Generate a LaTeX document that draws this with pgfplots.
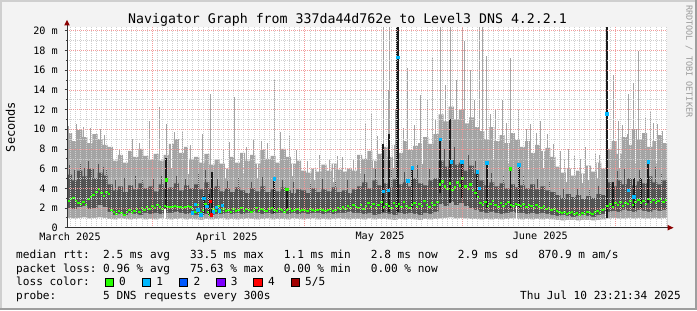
\documentclass[border=0pt]{standalone}
\usepackage{pgfplots}
\pgfplotsset{compat=1.18}
\usepackage{pgfplotstable}
\usepackage{fontspec}
\setmainfont{DejaVu Sans Mono}
\newcommand*\fs[1]{\fontsize{#1}{#1}\selectfont}
\definecolor{bgc}{HTML}{F3F3F3}
\definecolor{frlight}{HTML}{CFCFCF}
\definecolor{frdark}{HTML}{9E9E9E}
\definecolor{smokelight}{HTML}{A4A4A4}
\definecolor{smokedark}{HTML}{545454}
\definecolor{barblack}{HTML}{1C1C1C}
\definecolor{medgreen}{HTML}{26FF00}
\definecolor{loss1}{HTML}{00B8FF}
\definecolor{loss2}{HTML}{0059FF}
\definecolor{loss3}{HTML}{7E00FF}
\definecolor{loss4}{HTML}{FF0000}
\definecolor{loss5}{HTML}{A10000}
\definecolor{mgrid}{HTML}{F29A9A}
\definecolor{mingrid}{HTML}{CFCFCF}
\definecolor{arrowred}{HTML}{8B0000}
\definecolor{rrdgray}{HTML}{9A9A9A}

\pgfplotstableread{
d lo dlo dhi hi
0 1.00 2.0 5.4 9.6
1 0.95 1.9 4.8 8.8
2 1.00 2.1 5.8 9.9
3 1.05 2.2 5.2 9.2
4 0.95 1.9 6.0 8.6
5 1.00 2.0 5.0 9.5
6 1.05 2.3 5.6 9.0
7 1.00 2.1 5.3 8.4
8 0.90 1.6 4.4 8.2
9 0.85 1.3 3.8 6.8
10 0.95 1.4 4.2 7.4
11 0.90 1.3 3.6 6.6
12 0.85 1.5 4.3 7.8
13 0.90 1.4 3.9 7.2
14 0.95 1.3 4.5 8.0
15 0.85 1.5 4.0 7.3
16 0.90 1.4 4.2 6.9
17 0.85 1.5 3.7 7.5
18 0.95 1.4 4.4 6.8
19 0.90 1.5 4.0 7.4
20 0.85 1.5 4.1 8.5
21 0.90 1.6 4.5 9.0
22 0.95 1.5 3.8 7.6
23 0.85 1.4 4.3 8.2
24 0.90 1.5 4.0 7.0
25 0.85 1.3 4.4 7.2
26 0.80 1.2 3.9 6.6
27 0.90 1.4 4.6 7.5
28 0.85 1.3 4.0 6.4
29 0.90 1.4 4.2 6.9
30 0.95 1.4 3.7 6.5
31 0.85 1.5 4.0 6.0
32 0.90 1.4 3.6 7.2
33 0.85 1.5 4.1 6.6
34 0.90 1.4 3.8 7.6
35 0.95 1.5 3.5 6.8
36 0.90 1.6 4.0 7.4
37 0.85 1.5 3.7 6.5
38 0.90 1.4 4.2 7.9
39 0.95 1.5 3.6 7.0
40 0.85 1.4 3.9 7.3
41 0.90 1.5 3.7 6.6
42 0.90 1.5 4.1 8.0
43 0.85 1.4 3.8 7.2
44 0.95 1.5 3.5 6.5
45 0.90 1.4 3.9 6.8
46 0.85 1.5 3.8 5.8
47 0.90 1.4 3.5 5.6
48 0.95 1.5 4.0 6.0
49 0.85 1.5 3.6 5.7
50 0.90 1.4 3.9 6.4
51 0.85 1.5 3.7 5.8
52 0.90 1.4 4.1 6.5
53 0.95 1.5 3.6 5.9
54 0.90 1.5 3.8 5.7
55 0.85 1.6 3.5 6.0
56 0.90 1.5 3.9 5.8
57 0.90 1.5 4.2 7.4
58 0.85 1.4 4.6 7.0
59 0.95 1.5 4.0 7.8
60 0.85 1.3 4.8 6.8
61 0.90 1.4 4.3 7.5
62 0.90 1.5 4.5 8.2
63 0.85 1.4 4.1 7.2
64 0.80 1.3 4.9 8.4
65 0.90 1.5 4.4 7.6
66 0.85 1.4 4.6 8.8
67 0.90 1.5 4.2 7.9
68 0.85 1.4 5.0 8.3
69 0.80 1.3 4.5 8.6
70 0.90 1.5 4.3 9.2
71 0.85 1.4 4.8 8.5
72 0.90 1.6 5.0 9.5
73 0.95 2.4 6.8 11.5
74 1.00 2.2 6.2 10.8
75 1.05 2.6 7.0 12.3
76 0.95 2.3 6.4 11.0
77 1.00 2.5 6.6 12.0
78 0.95 2.2 5.8 10.6
79 0.90 2.0 6.3 11.2
80 0.90 1.8 5.5 10.2
81 0.85 1.6 4.8 9.8
82 0.90 1.5 4.3 9.0
83 0.85 1.6 4.6 10.2
84 0.90 1.5 4.2 8.8
85 0.85 1.4 4.5 9.4
86 0.90 1.5 4.0 8.6
87 0.95 1.6 4.4 9.6
88 0.90 1.5 4.1 8.9
89 0.85 1.5 4.3 8.2
90 0.90 1.4 4.0 8.8
91 0.85 1.5 4.4 7.6
92 0.90 1.4 3.9 8.4
93 0.85 1.5 4.2 7.8
94 0.90 1.4 3.8 8.1
95 0.85 1.3 3.6 7.2
96 0.80 1.2 3.3 6.2
97 0.75 1.3 3.0 5.6
98 0.80 1.2 3.4 6.0
99 0.80 1.1 3.1 5.3
100 0.75 1.2 3.3 5.8
101 0.80 1.3 2.9 5.5
102 0.80 1.2 3.2 6.3
103 0.75 1.1 3.0 5.7
104 0.80 1.3 3.4 6.6
105 0.85 1.4 3.3 6.0
106 0.95 1.6 4.6 8.0
107 1.00 1.7 4.2 8.8
108 0.95 1.6 4.8 7.5
109 0.95 1.8 4.4 9.2
110 1.00 1.7 5.0 8.4
111 0.95 1.6 4.3 10.0
112 1.00 1.8 4.7 9.0
113 0.95 1.7 4.5 9.6
114 0.95 1.6 5.2 8.2
115 1.00 1.8 4.6 8.8
116 0.95 1.7 4.4 9.4
117 1.00 1.8 4.8 8.6
117.9 1.00 1.8 4.8 8.6
}\smoke

\begin{document}
\frenchspacing
\begin{tikzpicture}
\begin{scope}[x=1bp,y=1bp]
\fill[bgc] (0,0) rectangle (697,310);
\useasboundingbox (0,0) rectangle (697,310);
\draw[frlight, line width=2bp] (1,0) -- (1,309) -- (697,309);
\draw[frdark, line width=2bp] (0,1) -- (696,1) -- (696,310);
\end{scope}

\begin{axis}[
  at={(67bp,82.3bp)}, anchor=south west,
  scale only axis, width=600bp, height=200.9bp,
  xmin=0, xmax=117.9, ymin=0, ymax=20.4,
  axis background/.style={fill=white},
  axis line style={draw=none},
  axis on top,
  xtick={16.7,46.7,77.7,107.7}, xticklabels={,,,},
  minor xtick={0.7,1.7,...,117.7},
  ytick={0,2,...,20},
  yticklabels={0,2 m,4 m,6 m,8 m,10 m,12 m,14 m,16 m,18 m,20 m},
  minor ytick={1,3,...,19},
  grid=both,
  major grid style={mgrid, line width=0.6bp, dash pattern=on 1bp off 1bp},
  minor grid style={mingrid, line width=0.5bp, dash pattern=on 1bp off 1bp},
  tick pos=left, tick align=outside,
  x tick style={draw=none},
  y tick style={black!75, line width=0.8bp},
  major tick length=2.5bp, minor tick length=1.5bp,
  extra x ticks={0.6,31.4,61.5,93},
  extra x tick labels={March 2025,April 2025,May 2025,June 2025},
  extra x tick style={grid=none, major tick length=0pt},
  tick label style={font=\fs{10.2}, text=black},
  yticklabel style={anchor=east, inner sep=0pt, xshift=-6.5bp},
  xticklabel style={anchor=north, inner sep=0pt, yshift=-4.5bp},
]
% outer smoke (light)
\addplot[const plot, fill=smokelight, draw=none] table[x=d, y=hi]{\smoke} \closedcycle;
% light spikes
\addplot[ycomb, smokelight, line width=1bp, mark=none] coordinates {
(0.3,10.3) (1.8,10.5) (2.4,9.8) (3.3,10.2) (4.7,10.1) (6.5,10.0) (7.4,9.4)
(10.4,8.0) (12.8,9.0) (14.2,8.6) (16.3,10.8) (18.1,12.3) (19.5,10.5) (21.2,9.7)
(22.6,9.8) (24.3,8.4) (26.7,9.5) (28.1,13.6) (30.8,8.0) (32.0,8.7) (33.0,13.3)
(35.3,8.2) (36.6,9.0) (38.3,8.8) (39.4,8.6) (40.7,15.0) (41.9,9.7) (43.8,9.3)
(45.1,7.9) (47.3,6.8) (49.7,7.4) (51.6,6.9) (53.1,7.3) (54.2,7.2) (56.3,7.0)
(58.6,10.5) (59.9,11.5) (61.0,9.3) (62.1,20.4) (63.1,14.0) (63.3,20.4) (64.5,12.0)
(66.2,10.1) (67.0,16.2) (68.2,10.4) (69.4,13.5) (70.8,13.1) (71.9,17.2) (72.5,11.0)
(73.3,20.4) (74.3,14.5) (75.3,20.4) (76.45,15.0) (77.8,20.4) (78.2,19.0) (79.2,16.0)
(80.0,13.0) (81.0,20.4) (81.6,20.4) (82.5,17.4) (83.2,11.5) (84.1,12.0) (85.5,13.0)
(86.4,10.6) (87.1,17.2) (88.8,12.1) (90.2,10.0) (91.0,10.5) (92.2,9.6) (93.0,10.8)
(94.5,9.5) (95.6,8.5) (96.9,7.8) (97.7,7.0) (98.5,8.0) (99.8,7.4) (100.9,7.0)
(101.8,8.2) (103.8,7.6) (104.7,7.4) (107.3,15.5) (108.3,10.8) (109.2,10.4) (110.1,9.5)
(110.3,13.6) (111.3,14.7) (112.2,17.9) (113.6,11.2) (114.6,11.8) (115.3,10.6) (116.0,10.5)
(117.0,9.8)
};
% white notches in the outer smoke
\addplot[white, line width=1bp, unbounded coords=jump] coordinates {
(20.6,6.0) (20.6,9.0) (20.6,nan) (23.8,5.5) (23.8,8.2) (23.8,nan)
(31.2,5.0) (31.2,7.2) (31.2,nan) (34.6,5.5) (34.6,7.6) (34.6,nan)
(37.4,5.0) (37.4,6.5) (37.4,nan) (44.3,5.2) (44.3,6.5) (44.3,nan)
(48.6,4.8) (48.6,6.0) (48.6,nan) (52.3,4.6) (52.3,6.5) (52.3,nan)
(57.6,5.5) (57.6,7.4) (57.6,nan) (60.3,6.0) (60.3,6.8) (60.3,nan)
(64.2,6.0) (64.2,8.4) (64.2,nan) (69.8,6.5) (69.8,8.6) (69.8,nan)
(83.8,7.0) (83.8,10.2) (83.8,nan) (86.8,6.5) (86.8,8.6) (86.8,nan)
(90.6,6.0) (90.6,8.8) (90.6,nan) (93.6,6.0) (93.6,7.8) (93.6,nan)
(98.2,4.6) (98.2,6.0) (98.2,nan) (101.2,4.5) (101.2,5.5) (101.2,nan)
(102.4,4.8) (102.4,6.3) (102.4,nan) (104.2,5.0) (104.2,6.6) (104.2,nan)
(108.6,6.0) (108.6,7.5) (108.6,nan) (111.8,6.5) (111.8,10.0) (111.8,nan)
(115.8,6.5) (115.8,8.8)
};
% inner smoke (dark)
\addplot[const plot, fill=smokedark, draw=none] table[x=d, y=dhi]{\smoke} \closedcycle;
\addplot[ycomb, smokedark, line width=1bp, mark=none] coordinates {
(0.5,6.4) (1.5,5.9) (2.6,6.6) (3.4,6.1) (4.3,6.8) (5.2,6.0) (6.2,6.5) (7.1,6.2) (7.8,5.9)
(9.6,4.8) (11.2,5.0) (13.4,5.2) (14.8,4.9) (16.9,5.0) (18.6,5.3) (21.5,5.2) (23.3,5.0)
(25.8,5.6) (27.2,5.9) (29.6,5.0) (31.5,4.7) (33.7,5.0) (36.2,4.6) (38.5,5.1) (42.4,4.8)
(44.6,4.6) (47.8,4.5) (50.3,4.9) (52.7,4.6) (55.2,4.8) (58.4,5.5) (60.7,6.0) (63.8,6.2)
(66.4,5.7) (68.9,6.4) (71.3,6.0) (74.2,8.0) (76.1,8.2) (78.8,7.4) (80.2,6.8) (83.5,5.6)
(85.8,5.4) (89.7,5.2) (92.4,5.0) (94.9,4.6) (97.5,4.0) (100.3,3.9) (102.6,4.1) (104.5,4.2)
(108.1,5.8) (109.6,6.0) (112.4,5.9) (115.6,6.2) (116.8,5.6)
};
% lower light band and white base
\addplot[const plot, fill=smokelight, draw=none] table[x=d, y=dlo]{\smoke} \closedcycle;
\addplot[const plot, fill=white, draw=none] table[x=d, y=lo]{\smoke} \closedcycle;
% gaps
\addplot[white, line width=1.2bp, unbounded coords=jump] coordinates {
(19.25,0) (19.25,1.9) (19.25,nan) (88.4,0) (88.4,2.2) (88.4,nan) (105.8,0) (105.8,1.6)
};
% dark bars
\addplot[barblack, line width=1.5bp, unbounded coords=jump] coordinates {
(19.5,1.9) (19.5,7.1) (19.5,nan)
(26.9,1.5) (26.9,3.2) (26.9,nan)
(27.9,1.3) (27.9,3.4) (27.9,nan)
(28.5,1.5) (28.5,5.7) (28.5,nan)
(40.7,1.5) (40.7,5.0) (40.7,nan)
(43.2,1.8) (43.2,3.9) (43.2,nan)
(62.1,1.6) (62.1,8.5) (62.1,nan)
(63.3,1.6) (63.3,9.5) (63.3,nan)
(67.8,2.0) (67.8,6.1) (67.8,nan)
(73.3,3.5) (73.3,9.0) (73.3,nan)
(75.3,2.5) (75.3,11.0) (75.3,nan)
(77.6,3.0) (77.6,6.7) (77.6,nan)
(80.6,3.0) (80.6,5.6) (80.6,nan)
(82.5,2.0) (82.5,6.6) (82.5,nan)
(87.1,2.0) (87.1,6.0) (87.1,nan)
(88.8,2.0) (88.8,6.4) (88.8,nan)
(107.3,2.0) (107.3,4.6) (107.3,nan)
(111.4,2.0) (111.4,5.0) (111.4,nan)
(112.8,2.0) (112.8,5.0) (112.8,nan)
(114.2,2.5) (114.2,6.7)
};
\addplot[barblack, line width=2.6bp, unbounded coords=jump] coordinates {
(65.0,1.6) (65.0,20.4) (65.0,nan) (106.1,1.0) (106.1,20.4)
};
% median rtt
\addplot[jump mark left, medgreen, line width=2.4bp] coordinates {
(0,2.7) (0.5,2.9) (1,3.0) (1.5,2.7) (2,2.5) (2.5,2.4) (3,2.6) (3.5,2.3) (4,2.9) (4.5,3.1)
(5,3.3) (5.5,3.6) (6,3.9) (6.5,3.5) (7,3.2) (7.5,3.6) (8,3.4) (8.5,1.8) (9,1.6) (9.5,1.4)
(10,1.7) (10.5,1.5) (11,1.3) (11.5,1.6) (12,1.8) (12.5,1.5) (13,1.7) (13.5,1.9) (14,1.6) (14.5,2.0)
(15,1.8) (15.5,2.1) (16,1.9) (16.5,2.2) (17,2.0) (17.5,2.3) (18,2.1) (18.5,1.9) (19,2.2) (19.5,2.1)
(20,2.1) (20.5,2.1) (21,2.2) (21.5,2.1) (22,2.1) (22.5,2.0) (23,2.1) (23.5,2.2) (24,2.1) (24.5,1.9)
(25,1.6) (25.5,2.3) (26,1.5) (26.5,1.8) (27,2.4) (27.5,1.6) (28,1.3) (28.5,1.9) (29,1.7) (29.5,2.2)
(30,1.6) (30.5,1.9) (31,1.7) (31.5,1.8) (32,1.6) (32.5,1.9) (33,1.7) (33.5,1.8) (34,2.0) (34.5,1.7)
(35,1.9) (35.5,1.8) (36,1.6) (36.5,1.8) (37,2.0) (37.5,1.7) (38,1.9) (38.5,1.8) (39,1.7) (39.5,1.9)
(40,2.0) (40.5,1.8) (41,1.7) (41.5,1.9) (42,1.8) (42.5,1.6) (43,1.8) (43.5,1.9) (44,1.7) (44.5,1.8)
(45,1.9) (45.5,1.7) (46,1.8) (46.5,1.8) (47,1.7) (47.5,1.9) (48,1.8) (48.5,1.7) (49,1.8) (49.5,1.9)
(50,1.8) (50.5,1.7) (51,1.8) (51.5,1.9) (52,1.7) (52.5,1.8) (53,2.0) (53.5,1.9) (54,2.1) (54.5,1.9)
(55,2.2) (55.5,2.0) (56,2.3) (56.5,2.1) (57,2.0) (57.5,2.3) (58,1.9) (58.5,2.2) (59,2.5) (59.5,2.1)
(60,2.4) (60.5,2.0) (61,2.3) (61.5,2.6) (62,2.1) (62.5,2.4) (63,2.2) (63.5,2.0) (64,2.5) (64.5,2.2)
(65,2.4) (65.5,2.1) (66,2.6) (66.5,2.2) (67,2.0) (67.5,2.3) (68,2.5) (68.5,2.1) (69,2.4) (69.5,2.2)
(70,2.7) (70.5,2.3) (71,2.1) (71.5,2.5) (72,2.3) (72.5,2.6) (73,4.4) (73.5,4.7) (74,4.2) (74.5,3.9)
(75,4.5) (75.5,3.8) (76,4.1) (76.5,4.6) (77,4.3) (77.5,5.0) (78,4.2) (78.5,3.9) (79,4.4) (79.5,3.8)
(80,3.5) (80.5,3.1) (81,2.5) (81.5,2.3) (82,2.6) (82.5,2.2) (83,2.4) (83.5,2.7) (84,2.3) (84.5,2.1)
(85,2.5) (85.5,2.2) (86,2.4) (86.5,2.6) (87,2.3) (87.5,2.2) (88,2.4) (88.5,2.3) (89,2.2) (89.5,2.4)
(90,2.1) (90.5,2.3) (91,2.2) (91.5,2.0) (92,2.3) (92.5,2.1) (93,2.0) (93.5,2.2) (94,1.9) (94.5,2.0)
(95,1.8) (95.5,1.9) (96,1.7) (96.5,1.6) (97,1.5) (97.5,1.6) (98,1.4) (98.5,1.5) (99,1.6) (99.5,1.4)
(100,1.5) (100.5,1.3) (101,1.5) (101.5,1.4) (102,1.6) (102.5,1.5) (103,1.4) (103.5,1.6) (104,1.7) (104.5,1.5)
(105,1.8) (105.5,1.9) (106,2.2) (106.5,2.4) (107,2.1) (107.5,2.5) (108,2.3) (108.5,2.6) (109,2.2) (109.5,2.5)
(110,2.4) (110.5,2.7) (111,2.3) (111.5,2.6) (112,2.8) (112.5,2.5) (113,2.7) (113.5,2.4) (114,2.9) (114.5,2.6)
(115,2.8) (115.5,2.5) (116,2.7) (116.5,2.9) (117,2.6) (117.5,2.8) (117.9,2.8)
};
% loss-coloured median points
\addplot[only marks, mark=square*, mark size=1.3bp, medgreen, mark options={draw=none}] coordinates {
(19.5,4.9) (43.2,3.9) (87.1,6.0)
};
\addplot[only marks, mark=square*, mark size=1.3bp, loss1, mark options={draw=none}] coordinates {
(24.6,1.5) (25.2,2.4) (25.7,1.8) (26.3,1.3) (26.9,3.0) (27.5,2.2) (28.7,1.6) (29.3,2.1)
(29.9,1.7) (30.5,2.3) (40.7,5.0) (62.1,3.7) (63.1,3.8) (65.0,17.3) (67.0,4.8) (67.8,6.1)
(73.3,9.0) (75.5,6.7) (77.6,6.7) (80.6,5.7) (81.0,4.0) (82.5,6.6) (88.8,6.4) (106.1,11.6)
(110.3,3.8) (111.4,3.15) (114.2,6.7)
};
\addplot[only marks, mark=square*, mark size=1.3bp, loss4, mark options={draw=none}] coordinates {
(28.1,2.7) (28.3,1.3)
};
\end{axis}

\begin{scope}[x=1bp,y=1bp]
% axes with arrows
\draw[black!80, line width=1bp] (67,82.3) -- (67,285);
\fill[arrowred] (64.2,284.5) -- (69.8,284.5) -- (67,290) -- cycle;
\draw[black!80, line width=1bp] (67,82.3) -- (668,82.3);
\fill[arrowred] (667.5,79.5) -- (667.5,85.1) -- (673.5,82.3) -- cycle;

% title and labels
\node[anchor=base, inner sep=0pt, font=\fs{13.3}] at (347.5,286.5)
  {Navigator Graph from 337da44d762e to Level3 DNS 4.2.2.1};
\node[rotate=90, inner sep=0pt, font=\fs{12}] at (10.5,183) {Seconds};
\node[rotate=-90, anchor=west, inner sep=0pt, font=\fs{8.5}, text=rrdgray] at (689,305)
  {RRDTOOL / TOBI OETIKER};

% legend
\begin{scope}[every node/.style={anchor=base west, inner sep=0pt, font=\fs{11.16}}]
\node at (16,51.7) {median~rtt:~~2.5~ms~avg~~~33.5~ms~max~~~1.1~ms~min~~~2.8~ms~now~~~2.9~ms~sd~~~870.9~m~am/s};
\node at (16,38.0) {packet~loss:~0.96~\%~avg~~~75.63~\%~max~~~0.00~\%~min~~~0.00~\%~now};
\node at (16,24.3) {loss~color:};
\node at (16,10.6) {probe:~~~~~~~5~DNS~requests~every~300s};
\node[anchor=base east] at (681,10.6) {Thu~Jul~10~23:21:34~2025};
\foreach \c/\t [count=\k from 0] in {medgreen/0, loss1/1, loss2/2, loss3/3, loss4/4, loss5/{5/5}}{
  \pgfmathsetmacro\bx{105+37.2*\k}
  \filldraw[fill=\c, draw=black, line width=0.8bp] (\bx,23.6) rectangle (\bx+8.4,32);
  \node at (\bx+14,24.3) {\t};
}
\end{scope}
\end{scope}
\end{tikzpicture}
\end{document}
